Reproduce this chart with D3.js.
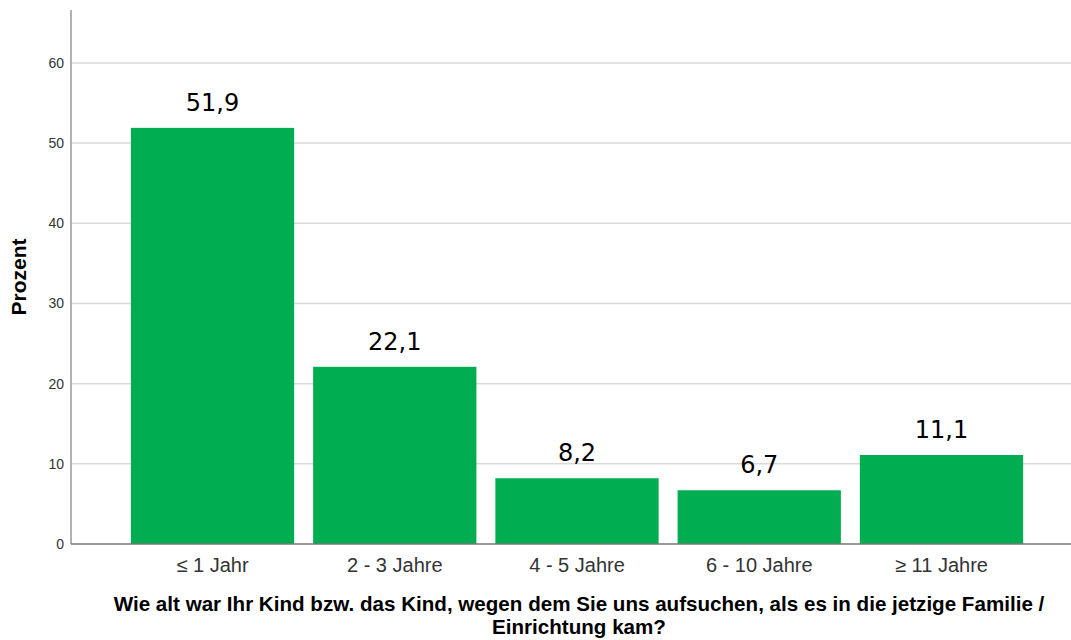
<!DOCTYPE html>
<html><head><meta charset="utf-8">
<script src="https://cdn.jsdelivr.net/npm/d3@7"></script>
<style>body{margin:0;background:#fff}svg{display:block}</style>
</head><body>
<svg id="c" width="1071" height="640"></svg>
<script>
const categories = ["≤ 1 Jahr", "2 - 3 Jahre", "4 - 5 Jahre", "6 - 10 Jahre", "≥ 11 Jahre"];
const values = [51.9, 22.1, 8.2, 6.7, 11.1];
const valueLabels = ["51,9", "22,1", "8,2", "6,7", "11,1"];
const yTicks = [0, 10, 20, 30, 40, 50, 60];
const yTitle = "Prozent";
const xTitleLines = ["Wie alt war Ihr Kind bzw. das Kind, wegen dem Sie uns aufsuchen, als es in die jetzige Familie /", "Einrichtung kam?"];

const svg = d3.select("#c");
const mLeft = 71, mRight = 1071, mTop = 10, mBottom = 544;
const y = d3.scaleLinear().domain([0, 66.6]).range([mBottom, mTop]);
const x = d3.scaleBand().domain(categories).range([121.4, 1032.6]).paddingInner(0.104).paddingOuter(0.052);

// gridlines
svg.append("g").selectAll("line").data(yTicks.filter(d => d > 0)).join("line")
  .attr("x1", mLeft).attr("x2", mRight).attr("y1", d => y(d)).attr("y2", d => y(d))
  .attr("stroke", "#d9d9d9").attr("stroke-width", 1.5);

// bars
svg.append("g").selectAll("rect").data(values).join("rect")
  .attr("x", (d, i) => x(categories[i])).attr("width", x.bandwidth())
  .attr("y", d => y(d)).attr("height", d => mBottom - y(d))
  .attr("fill", "#00ad50");

// value labels
svg.append("g").selectAll("text").data(values).join("text")
  .attr("x", (d, i) => x(categories[i]) + x.bandwidth() / 2)
  .attr("y", d => y(d) - 17)
  .attr("text-anchor", "middle")
  .attr("font-family", "DejaVu Sans").attr("font-size", 24).attr("fill", "#000")
  .text((d, i) => valueLabels[i]);

// y axis
const yAxis = d3.axisLeft(y).tickValues(yTicks).tickSize(0).tickPadding(7);
const gy = svg.append("g").attr("transform", `translate(${mLeft},0)`).call(yAxis);
gy.select(".domain").remove();
gy.selectAll("text").attr("font-family", "Liberation Sans").attr("font-size", 14).attr("fill", "#333");
svg.append("line").attr("x1", mLeft).attr("x2", mLeft).attr("y1", mTop).attr("y2", mBottom)
  .attr("stroke", "#999").attr("stroke-width", 1.5);

// x axis
const xAxis = d3.axisBottom(x).tickSize(0).tickPadding(14);
const gx = svg.append("g").attr("transform", `translate(0,${mBottom})`).call(xAxis);
gx.select(".domain").remove();
gx.selectAll("text").attr("font-family", "Liberation Sans").attr("font-size", 20).attr("fill", "#333");
svg.append("line").attr("x1", mLeft).attr("x2", mRight).attr("y1", mBottom).attr("y2", mBottom)
  .attr("stroke", "#777").attr("stroke-width", 1.5);

// titles
svg.append("text").attr("transform", `translate(26,277) rotate(-90)`)
  .attr("text-anchor", "middle").attr("font-family", "Liberation Sans").attr("font-weight", "bold")
  .attr("font-size", 21).attr("fill", "#000").text(yTitle);
svg.append("g").selectAll("text").data(xTitleLines).join("text")
  .attr("x", 579).attr("y", (d, i) => 611 + i * 23)
  .attr("text-anchor", "middle").attr("font-family", "Liberation Sans").attr("font-weight", "bold")
  .attr("font-size", 20.6).attr("fill", "#000").text(d => d);
</script>
</body></html>
